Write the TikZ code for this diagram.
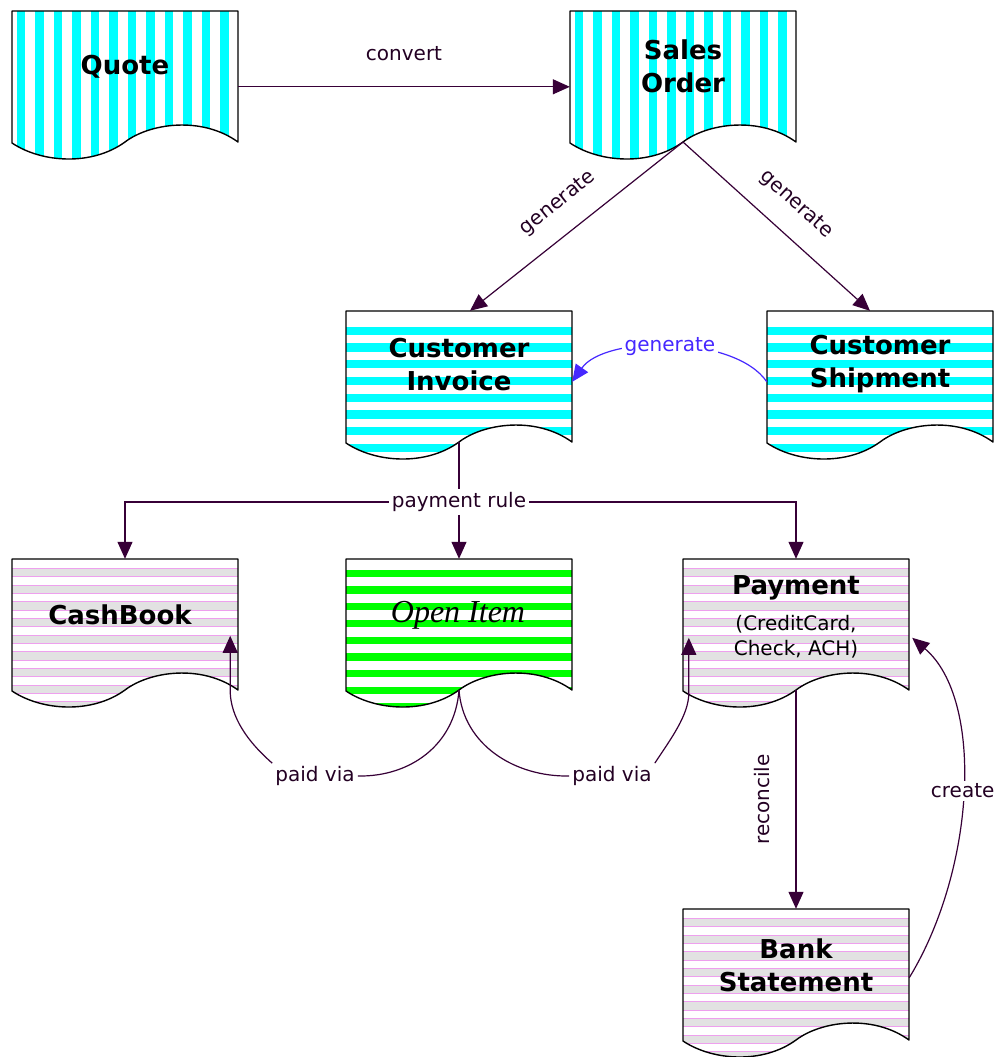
\documentclass[tikz,border=0pt]{standalone}
\usepackage{fontspec}
\setmainfont{DejaVu Sans}
\newfontfamily\timesf{Liberation Serif}
\usetikzlibrary{arrows.meta,calc}
\definecolor{cyanS}{RGB}{0,255,255}
\definecolor{greenS}{RGB}{0,255,0}
\definecolor{grayS}{RGB}{226,226,226}
\definecolor{pinkS}{RGB}{238,160,238}
\definecolor{connC}{RGB}{55,0,55}
\definecolor{txtC}{RGB}{35,0,35}
\definecolor{blueS}{RGB}{70,40,255}
\newcommand{\docpath}{(0,0) -- (226,0) -- (226,131) .. controls (190,105) and (138,112) .. (113,131) .. controls (80,155) and (30,152) .. (0,132) -- cycle}
\newcommand{\vstripes}{\foreach \i in {0,...,12}{\fill[cyanS] ({4.7+18.5*\i},0) rectangle ({13+18.5*\i},160);}}
\newcommand{\hstripes}[3]{\foreach \i in {0,...,9}{\fill[#1] (0,{#2+16.7*\i}) rectangle (226,{#2+#3+16.7*\i});}}
\newcommand{\gstripes}{\foreach \i in {0,...,8}{\fill[grayS] (0,{9.3+16.7*\i}) rectangle (226,{17.7+16.7*\i});
  \draw[pinkS,line width=0.9pt] (0,{9.3+16.7*\i}) -- (226,{9.3+16.7*\i});
  \draw[pinkS,line width=0.9pt] (0,{17.7+16.7*\i}) -- (226,{17.7+16.7*\i});}}
\newcommand{\docnode}[4]{%
  \node[docbody] (#1) at ({#2+113},{#3+66}) {};
  \begin{scope}[shift={(#2,#3)}]
    \begin{scope}
      \clip \docpath;
      #4
    \end{scope}
    \draw[docline] \docpath;
    \coordinate (#1-w) at (113,131);
  \end{scope}}
\begin{document}
\begin{tikzpicture}[x=1pt,y=-1pt,
  docbody/.style={minimum width=226pt,minimum height=132pt,inner sep=0pt},
  docline/.style={draw=black,line width=1.4pt,line join=round},
  title/.style={font=\bfseries\fontsize{26}{33}\selectfont,align=center,text=black},
  lbl/.style={font=\fontsize{20}{25}\selectfont,text=txtC,inner sep=3pt},
  conn/.style={draw=connC,line width=1.2pt},
  arr/.style={-{Triangle[length=17pt,width=15pt]}},
]
\useasboundingbox (0,0) rectangle (999,1057);
\fill[white] (0,0) rectangle (999,1057);

\docnode{quote}{12}{11}{\vstripes}
\docnode{so}{570}{11}{\vstripes}
\docnode{inv}{346}{311}{\hstripes{cyanS}{15.7}{8.3}}
\docnode{ship}{767}{311}{\hstripes{cyanS}{15.7}{8.3}}
\docnode{cb}{12}{559}{\gstripes}
\docnode{oi}{346}{559}{\hstripes{greenS}{10.7}{7.3}}
\docnode{pay}{683}{559}{\gstripes}
\docnode{bank}{683}{909}{\gstripes}

\node[title] (quote-t) at (125,67) {Quote};
\node[title] (so-t) at (683,66.5) {Sales\\Order};
\node[title] (inv-t) at (459,364.5) {Customer\\Invoice};
\node[title] (ship-t) at (880,364.5) {Customer\\Shipment};
\node[title] (cb-t) at (120,615) {CashBook};
\node[font=\timesf\itshape\fontsize{32}{38}\selectfont,text=black] (oi-t) at (458,615) {Open Item};
\node[title] (pay-t) at (796,588) {Payment};
\node[lbl,align=center,text=black] (pay-s) at (796,637) {(CreditCard,\\Check, ACH)};
\node[title] (bank-t) at (796,965.5) {Bank\\Statement};

% convert
\draw[conn,arr] ($(quote.north east)+(0,76)$) -- node[lbl,above=22pt]{convert} ($(so.north west)+(0,76)$);

% generate (sales order)
\coordinate (inv-in) at ($(inv.north)+(11,0)$);
\coordinate (ship-in) at ($(ship.north)+(-10,0)$);
\draw[conn,arr] (so-w) -- node[lbl,sloped,above=17pt]{generate} (inv-in);
\draw[conn,arr] (so-w) -- node[lbl,sloped,above=17pt]{generate} (ship-in);

% generate (shipment -> invoice)
\draw[draw=blueS,line width=1.2pt,arr] ($(ship.north west)+(0,71)$) .. controls (735,335) and (605,335) .. node[lbl,text=blueS,fill=white]{generate} ($(inv.north east)+(0,71)$);

% payment rule
\node[lbl,fill=white] (pr) at (459,502) {payment rule};
\draw[conn] (inv-w) -- (pr);
\draw[conn,arr] (pr) -- (oi.north);
\draw[conn,arr] (pr.west) -| (cb.north);
\draw[conn,arr] (pr.east) -| (pay.north);

% paid via
\node[lbl] (pv1) at (315,776) {paid via};
\node[lbl] (pv2) at (612,776) {paid via};
\coordinate (cb-in) at ($(cb.north east)+(-8,77)$);
\coordinate (pay-in) at ($(pay.north west)+(6,79)$);
\draw[conn] (oi-w) .. controls (455,745) and (410,777) .. (pv1.east);
\draw[conn,arr] (pv1.north west) .. controls (240,735) and (230,710) .. ($(cb-in)+(0,54)$) -- (cb-in);
\draw[conn] (oi-w) .. controls (463,745) and (515,777) .. (pv2.west);
\draw[conn,arr] (pv2.north east) .. controls (670,740) and (689,715) .. ($(pay-in)+(0,55)$) -- (pay-in);

% reconcile
\draw[conn,arr] (pay-w) -- node[lbl,xshift=-34pt,rotate=90]{reconcile} (bank.north);

% create
\coordinate (pay-rin) at ($(pay.north east)+(3,79)$);
\draw[conn,arr] ($(bank.north east)+(0,69)$) .. controls (975,870) and (985,700) .. node[lbl,fill=white]{create} (pay-rin);
\end{tikzpicture}
\end{document}
